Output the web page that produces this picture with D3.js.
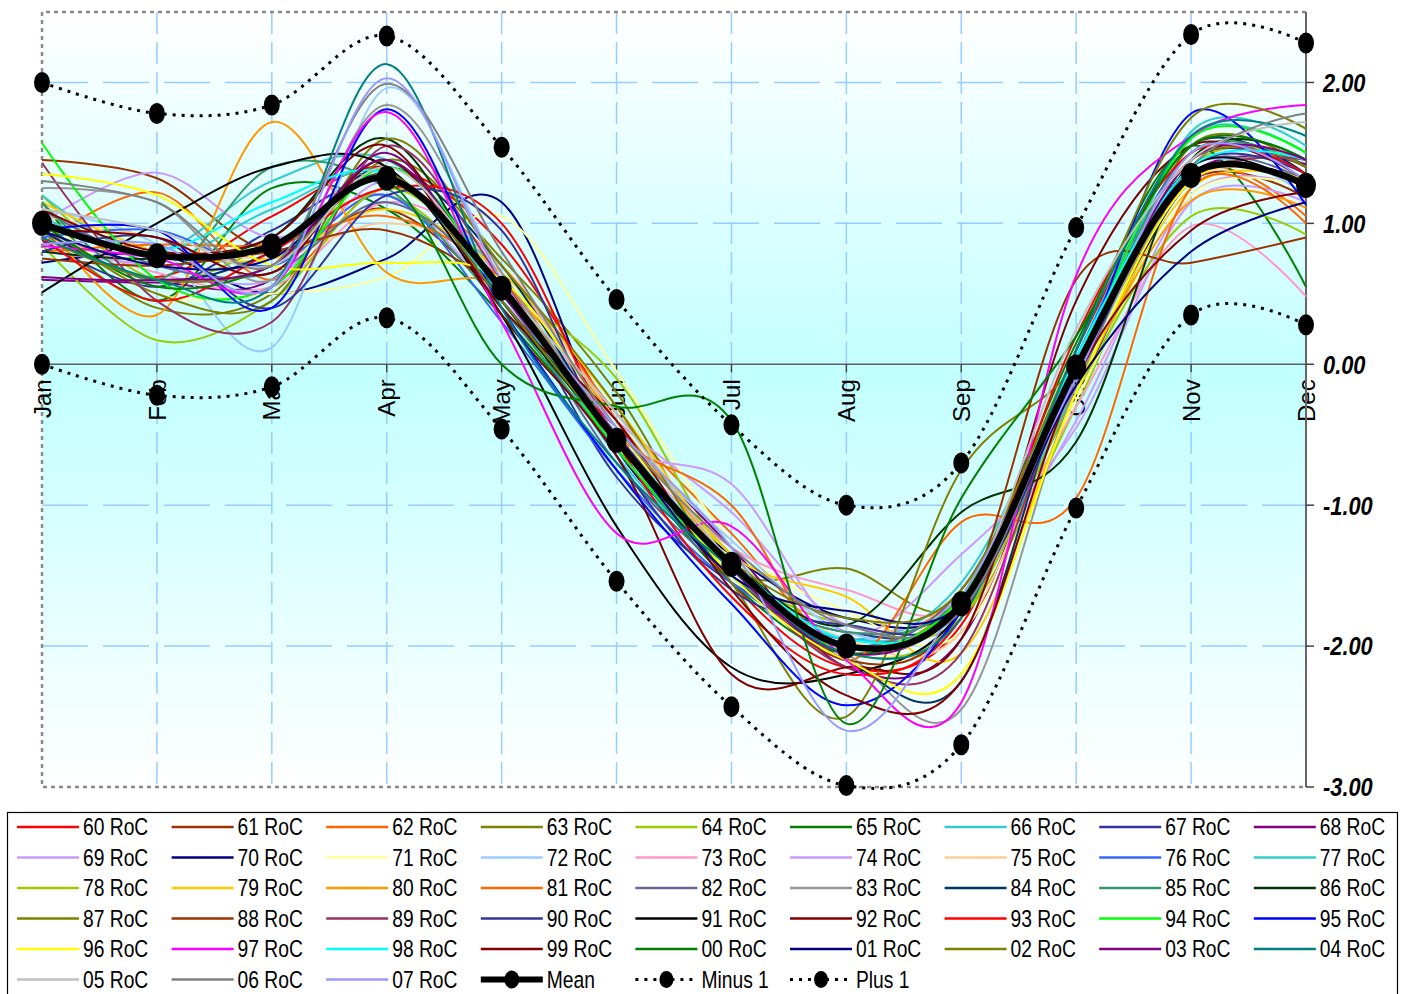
<!DOCTYPE html>
<html>
<head>
<meta charset="utf-8">
<script src="https://cdn.jsdelivr.net/npm/d3@7"></script>
<style>
  body { margin: 0; background: #fff; }
</style>
</head>
<body>
<div id="chart"></div>
<script>
// months on the x axis
let months = ["Jan", "Feb", "Mar", "Apr", "May", "Jun", "Jul", "Aug", "Sep", "Oct", "Nov", "Dec"];

// yearly rate of change series, Jan..Dec
let y60 = [0.95, 0.62, 1.05, 1.40, 0.85, -0.40, -1.55, -2.15, -1.85, 0.10, 1.45, 1.40];
let y61 = [1.45, 1.32, 0.80, 1.10, 0.45, -0.55, -1.40, -2.05, -1.65, -0.05, 1.30, 1.18];
let y62 = [0.85, 1.22, 0.60, 1.25, 0.70, -0.35, -1.20, -2.00, -1.65, -0.20, 1.35, 1.05];
let y63 = [0.95, 0.40, 0.50, 1.45, 0.75, -0.20, -1.45, -1.45, -1.70, -0.15, 1.55, 1.40];
let y64 = [1.20, 0.60, 0.85, 1.20, 0.55, -0.10, -1.40, -1.85, -1.80, -0.30, 1.40, 1.45];
let y65 = [1.15, 0.45, 1.25, 1.10, 0.35, -0.60, -1.55, -2.05, -1.65, 0.15, 1.55, 0.55];
let y66 = [1.05, 0.80, 1.30, 1.45, 0.60, -0.65, -1.45, -1.95, -1.55, 0.05, 1.62, 1.50];
let y67 = [0.88, 0.55, 0.95, 1.30, 0.55, -0.80, -1.55, -1.90, -1.75, -0.10, 1.45, 1.35];
let y68 = [0.60, 0.58, 0.60, 1.50, 0.40, -0.45, -1.30, -2.15, -1.95, 0.00, 1.35, 1.42];
let y69 = [1.00, 1.36, 0.90, 1.20, 0.45, -0.40, -1.05, -1.85, -1.65, -0.40, 1.20, 1.25];
let y70 = [0.72, 0.78, 0.50, 0.75, 1.15, -0.60, -1.35, -1.80, -1.70, -0.20, 1.30, 1.30];
let y71 = [1.05, 0.50, 0.50, 0.62, 1.05, -0.05, -1.25, -1.75, -1.90, -0.25, 1.20, 1.25];
let y72 = [1.10, 0.85, 0.12, 1.96, 0.65, -0.45, -1.25, -1.90, -1.75, -0.05, 1.40, 1.20];
let y73 = [0.95, 0.65, 0.55, 1.15, 0.70, -0.50, -1.30, -1.60, -1.70, -0.30, 0.98, 0.48];
let y74 = [0.80, 0.70, 0.60, 1.30, 0.60, -0.55, -0.85, -1.90, -1.35, -0.45, 1.15, 1.15];
let y75 = [1.05, 0.90, 0.75, 1.00, 0.70, -0.40, -1.40, -1.95, -1.90, -0.10, 1.30, 1.30];
let y76 = [0.90, 0.95, 0.70, 1.20, 0.30, -0.75, -1.55, -1.95, -1.70, 0.05, 1.50, 1.35];
let y77 = [1.20, 0.75, 1.10, 1.35, 0.50, -0.60, -1.50, -1.95, -1.70, -0.15, 1.65, 1.55];
let y78 = [0.85, 0.17, 0.45, 1.25, 0.55, -0.45, -1.35, -2.05, -1.80, -0.20, 1.05, 0.92];
let y79 = [1.15, 0.80, 0.75, 1.10, 0.65, -0.30, -1.35, -1.65, -2.05, -0.20, 1.25, 1.30];
let y80 = [1.05, 0.35, 1.72, 0.65, 0.55, -0.40, -1.40, -2.00, -1.60, -0.15, 1.16, 1.11];
let y81 = [0.80, 0.85, 0.85, 1.05, 0.60, -0.50, -1.00, -2.10, -1.12, -0.95, 1.25, 1.00];
let y82 = [1.10, 0.70, 0.65, 1.15, 0.50, -0.70, -1.50, -2.00, -1.60, 0.00, 1.40, 1.30];
let y83 = [1.25, 1.15, 0.60, 1.84, 0.65, -0.50, -1.45, -2.05, -2.45, -0.15, 1.30, 1.45];
let y84 = [0.95, 0.60, 0.80, 1.40, 0.70, -0.55, -1.50, -2.10, -2.25, 0.10, 1.55, 1.35];
let y85 = [1.15, 0.60, 1.40, 1.25, 0.40, -0.60, -1.50, -1.90, -1.65, 0.00, 1.50, 1.40];
let y86 = [0.80, 0.75, 0.90, 1.60, 0.45, -0.55, -1.40, -1.85, -1.05, -0.55, 1.45, 1.45];
let y87 = [1.00, 0.50, 0.45, 1.60, 0.70, -0.30, -1.55, -2.50, -0.75, 0.00, 1.45, 1.40];
let y88 = [0.75, 0.70, 0.80, 0.95, 0.50, -0.50, -1.45, -2.10, -1.75, 0.60, 0.72, 0.90];
let y89 = [1.43, 0.45, 0.30, 1.55, 0.60, -0.55, -1.45, -2.15, -2.05, 0.00, 1.30, 1.45];
let y90 = [0.80, 0.90, 0.40, 1.20, 0.95, -0.65, -1.60, -1.85, -1.75, -0.10, 1.40, 1.35];
let y91 = [0.51, 1.00, 1.40, 1.40, 0.35, -1.15, -2.15, -2.20, -1.75, 0.00, 1.40, 1.25];
let y92 = [1.10, 0.80, 0.90, 1.55, 0.35, -0.65, -2.20, -2.15, -1.95, 0.45, 1.55, 1.30];
let y93 = [0.90, 0.45, 0.80, 1.25, 1.00, -0.55, -1.65, -2.20, -1.80, 0.20, 1.50, 1.35];
let y94 = [1.57, 0.60, 0.55, 1.40, 0.55, -0.60, -1.45, -2.00, -1.65, 0.00, 1.60, 1.50];
let y95 = [0.95, 0.95, 0.40, 1.81, 0.40, -0.75, -1.70, -2.42, -1.75, -0.05, 1.78, 1.13];
let y96 = [1.35, 1.20, 0.70, 0.72, 0.60, -0.45, -1.50, -2.10, -2.20, -0.20, 1.30, 1.30];
let y97 = [0.84, 0.75, 0.55, 1.79, 0.30, -1.20, -1.15, -2.10, -2.40, 0.63, 1.62, 1.84];
let y98 = [1.00, 0.80, 1.15, 1.35, 0.50, -0.50, -1.40, -1.95, -1.70, 0.05, 1.40, 1.45];
let y99 = [0.95, 0.90, 0.65, 1.45, 0.40, -0.40, -1.60, -2.35, -2.25, -0.10, 0.95, 1.22];
let y00 = [1.00, 0.55, 0.70, 1.30, 0.00, -0.30, -0.40, -2.55, -0.95, 0.20, 1.55, 1.45];
let y01 = [0.95, 0.70, 0.75, 1.35, 0.45, -0.55, -1.50, -1.75, -1.70, -0.15, 0.80, 1.15];
let y02 = [0.90, 0.60, 0.70, 1.35, 0.45, -0.55, -1.40, -1.80, -1.60, 0.10, 1.75, 1.67];
let y03 = [0.62, 0.60, 0.70, 1.45, 0.50, -0.50, -1.45, -2.05, -1.70, -0.05, 1.45, 1.45];
let y04 = [0.90, 0.60, 0.55, 2.13, 0.40, -0.70, -1.45, -2.05, -1.80, 0.10, 1.62, 1.62];
let y05 = [1.10, 0.95, 0.70, 1.40, 0.55, -0.35, -1.40, -2.00, -1.70, 0.25, 1.45, 1.72];
let y06 = [1.30, 1.15, 0.70, 1.99, 0.80, -0.45, -1.30, -1.85, -1.75, -0.05, 1.40, 1.78];
let y07 = [0.85, 0.85, 0.55, 2.03, 0.60, -0.45, -1.30, -2.60, -1.65, -0.10, 1.50, 1.30];

// summary series
let meanValues = [1.00, 0.77, 0.84, 1.32, 0.54, -0.54, -1.42, -2.00, -1.70, -0.02, 1.34, 1.27];
let minus1Values = [0.00, -0.22, -0.16, 0.33, -0.46, -1.54, -2.43, -2.99, -2.70, -1.02, 0.35, 0.28];
let plus1Values = [2.00, 1.78, 1.84, 2.33, 1.54, 0.46, -0.43, -1.00, -0.70, 0.97, 2.34, 2.28];

let yearNames = ["60 RoC", "61 RoC", "62 RoC", "63 RoC", "64 RoC", "65 RoC", "66 RoC", "67 RoC", "68 RoC",
    "69 RoC", "70 RoC", "71 RoC", "72 RoC", "73 RoC", "74 RoC", "75 RoC", "76 RoC", "77 RoC",
    "78 RoC", "79 RoC", "80 RoC", "81 RoC", "82 RoC", "83 RoC", "84 RoC", "85 RoC", "86 RoC",
    "87 RoC", "88 RoC", "89 RoC", "90 RoC", "91 RoC", "92 RoC", "93 RoC", "94 RoC", "95 RoC",
    "96 RoC", "97 RoC", "98 RoC", "99 RoC", "00 RoC", "01 RoC", "02 RoC", "03 RoC", "04 RoC",
    "05 RoC", "06 RoC", "07 RoC"];
let yearValues = [y60, y61, y62, y63, y64, y65, y66, y67, y68, y69, y70, y71, y72, y73, y74, y75,
    y76, y77, y78, y79, y80, y81, y82, y83, y84, y85, y86, y87, y88, y89, y90, y91, y92, y93, y94,
    y95, y96, y97, y98, y99, y00, y01, y02, y03, y04, y05, y06, y07];

let yTicks = [2, 1, 0, -1, -2, -3];

// line colours, same order as yearNames
let lineColors = ["#ff0000", "#993300", "#ff6600", "#808000", "#99cc00", "#008000", "#33cccc", "#333399", "#800080",
    "#cc99ff", "#000080", "#ffff99", "#99ccff", "#ff99cc", "#cc99ff", "#ffcc99", "#3366ff", "#33cccc",
    "#99cc00", "#ffcc00", "#ff9900", "#ff6600", "#666699", "#969696", "#003366", "#339966", "#003300",
    "#808000", "#993300", "#993366", "#333399", "#000000", "#800000", "#ff0000", "#00ff00", "#0000ff",
    "#ffff00", "#ff00ff", "#00ffff", "#800000", "#008000", "#000080", "#808000", "#800080", "#008080",
    "#c0c0c0", "#808080", "#9999ff"];

let svgWidth = 1404;
let svgHeight = 994;
let plotLeft = 42, plotRight = 1306, plotTop = 12, plotBottom = 787;
let sans = "'Liberation Sans', Arial, sans-serif";
// no narrow face installed, so squeeze the regular one
let squeeze = 0.82;

let svg = d3.select("#chart")
    .append("svg")
    .attr("width", svgWidth)
    .attr("height", svgHeight);

let xScale = d3.scalePoint().domain(months).range([plotLeft, plotRight]);
let yScale = d3.scaleLinear().domain([-3, 2.5]).range([plotBottom, plotTop]);

// background gradient, white at the edges and cyan near zero
let grad = svg.append("defs").append("linearGradient")
    .attr("id", "bg")
    .attr("x1", 0).attr("y1", 0).attr("x2", 0).attr("y2", 1);
grad.append("stop").attr("offset", "0%").attr("stop-color", "#ffffff");
grad.append("stop").attr("offset", "47%").attr("stop-color", "#c2ffff");
grad.append("stop").attr("offset", "100%").attr("stop-color", "#ffffff");

svg.append("rect")
    .attr("x", plotLeft).attr("y", plotTop)
    .attr("width", plotRight - plotLeft).attr("height", plotBottom - plotTop)
    .attr("fill", "url(#bg)");

// grid lines
svg.append("g")
    .selectAll("line")
    .data(yTicks.filter(d => d !== 0 && d !== -3))
    .join("line")
    .attr("x1", plotLeft).attr("x2", plotRight)
    .attr("y1", d => yScale(d)).attr("y2", d => yScale(d))
    .attr("stroke", "#99ccff").attr("stroke-width", 1.5)
    .attr("stroke-dasharray", "46,15");

svg.append("g")
    .selectAll("line")
    .data(months.slice(1, 11))
    .join("line")
    .attr("x1", d => xScale(d)).attr("x2", d => xScale(d))
    .attr("y1", plotTop).attr("y2", plotBottom)
    .attr("stroke", "#99ccff").attr("stroke-width", 1.5)
    .attr("stroke-dasharray", "22,8");

// dotted border on top, left and bottom
svg.append("path")
    .attr("d", "M" + plotRight + "," + plotTop + "H" + plotLeft + "V" + plotBottom + "H" + plotRight)
    .attr("fill", "none")
    .attr("stroke", "#8a8a8a").attr("stroke-width", 2.5)
    .attr("stroke-dasharray", "4,4");

// zero line with month ticks
svg.append("line")
    .attr("x1", plotLeft).attr("x2", plotRight)
    .attr("y1", yScale(0)).attr("y2", yScale(0))
    .attr("stroke", "#606060").attr("stroke-width", 1.5);

svg.append("g")
    .selectAll("line")
    .data(months)
    .join("line")
    .attr("x1", d => xScale(d)).attr("x2", d => xScale(d))
    .attr("y1", yScale(0)).attr("y2", yScale(0) + 8)
    .attr("stroke", "#404040").attr("stroke-width", 1.5);

// month labels, rotated
svg.append("g")
    .selectAll("text")
    .data(months)
    .join("text")
    .attr("transform", d => "translate(" + xScale(d) + "," + (yScale(0) + 15) + ") rotate(-90)")
    .attr("text-anchor", "end")
    .attr("dy", "0.36em")
    .attr("font-family", sans)
    .attr("font-size", 24)
    .attr("fill", "#000")
    .text(d => d);

// right axis
svg.append("line")
    .attr("x1", plotRight).attr("x2", plotRight)
    .attr("y1", plotTop).attr("y2", plotBottom)
    .attr("stroke", "#666").attr("stroke-width", 2);

let yAxis = svg.append("g")
    .selectAll("g")
    .data(yTicks)
    .join("g")
    .attr("transform", d => "translate(" + plotRight + "," + yScale(d) + ")");
yAxis.append("line")
    .attr("x1", 0).attr("x2", 8)
    .attr("stroke", "#404040").attr("stroke-width", 1.5);
yAxis.append("text")
    .attr("transform", "translate(17,0) scale(0.84,1)")
    .attr("dy", "0.36em")
    .attr("font-family", sans)
    .attr("font-size", 26)
    .attr("font-weight", "bold")
    .attr("font-style", "italic")
    .attr("fill", "#000")
    .text(d => d.toFixed(2));

// smoothed lines
let line = d3.line()
    .x((d, i) => xScale(months[i]))
    .y(d => yScale(d))
    .curve(d3.curveCardinal.tension(0));

svg.append("g")
    .selectAll("path")
    .data(yearValues)
    .join("path")
    .attr("fill", "none")
    .attr("stroke", (d, i) => lineColors[i])
    .attr("stroke-width", 2)
    .attr("d", line);

// plus / minus one, dotted
[minus1Values, plus1Values].forEach(vals => {
    svg.append("path")
        .datum(vals)
        .attr("fill", "none")
        .attr("stroke", "#000")
        .attr("stroke-width", 3)
        .attr("stroke-dasharray", "3,6")
        .attr("d", line);
    svg.append("g")
        .selectAll("ellipse")
        .data(vals)
        .join("ellipse")
        .attr("cx", (d, i) => xScale(months[i]))
        .attr("cy", d => yScale(d))
        .attr("rx", 8).attr("ry", 10.5)
        .attr("fill", "#000");
});

// mean
svg.append("path")
    .datum(meanValues)
    .attr("fill", "none")
    .attr("stroke", "#000")
    .attr("stroke-width", 6.5)
    .attr("d", line);
svg.append("g")
    .selectAll("ellipse")
    .data(meanValues)
    .join("ellipse")
    .attr("cx", (d, i) => xScale(months[i]))
    .attr("cy", d => yScale(d))
    .attr("rx", 10).attr("ry", 12.5)
    .attr("fill", "#000");

// legend
let legendItems = yearNames.map((n, i) => ({ name: n, color: lineColors[i], kind: "year" }))
    .concat([
        { name: "Mean", color: "#000", kind: "mean" },
        { name: "Minus 1", color: "#000", kind: "dot" },
        { name: "Plus 1", color: "#000", kind: "dot" }
    ]);

svg.append("rect")
    .attr("x", 7.5).attr("y", 812.5)
    .attr("width", 1390).attr("height", 200)
    .attr("fill", "#fff")
    .attr("stroke", "#000").attr("stroke-width", 1.2);

let colStep = 154.6, rowStep = 30.5;
let legend = svg.append("g")
    .selectAll("g")
    .data(legendItems)
    .join("g")
    .attr("transform", (d, i) => "translate(" + (17 + (i % 9) * colStep) + "," + (827 + Math.floor(i / 9) * rowStep) + ")");

legend.append("line")
    .attr("x1", 0).attr("x2", 62)
    .attr("stroke", d => d.color)
    .attr("stroke-width", d => d.kind === "mean" ? 6 : (d.kind === "dot" ? 3 : 2.5))
    .attr("stroke-dasharray", d => d.kind === "dot" ? "3,6" : null);

legend.filter(d => d.kind !== "year")
    .append("ellipse")
    .attr("cx", 31)
    .attr("rx", d => d.kind === "mean" ? 7.5 : 7)
    .attr("ry", d => d.kind === "mean" ? 9 : 8.5)
    .attr("fill", "#000");

legend.append("text")
    .attr("transform", "translate(66,0) scale(" + squeeze + ",1)")
    .attr("dy", "0.36em")
    .attr("font-family", sans)
    .attr("font-size", 23.5)
    .attr("fill", "#000")
    .text(d => d.name);
</script>
</body>
</html>
